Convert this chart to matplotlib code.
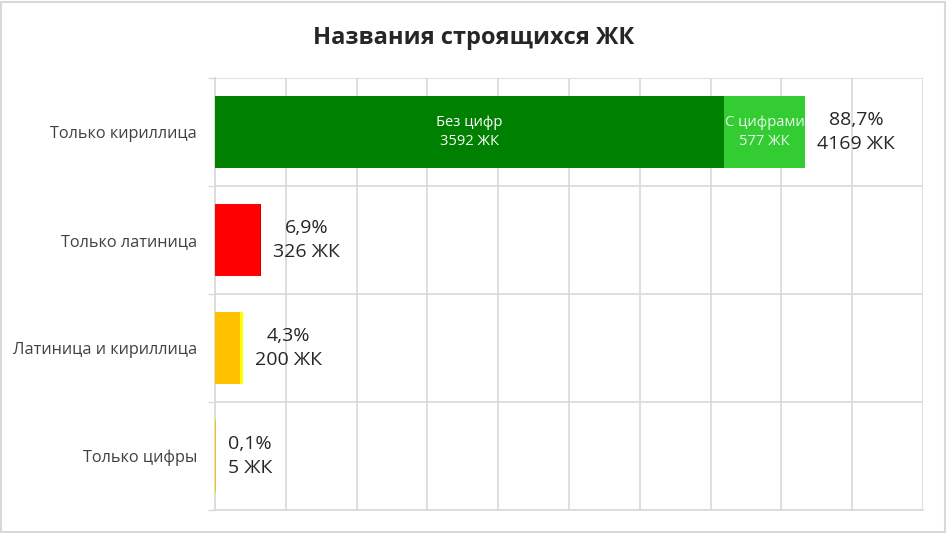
import matplotlib.pyplot as plt
import numpy as np

plt.rcParams['font.family'] = ['Open Sans', 'DejaVu Sans']

categories = ['Только кириллица', 'Только латиница', 'Латиница и кириллица', 'Только цифры']
no_digits = np.array([3592, 320, 178, 5])
with_digits = np.array([577, 6, 22, 0])
colors_a = ['#008000', '#FF0000', '#FFC000', '#FFC000']
colors_b = ['#33CC33', '#D00000', '#FFFF00', '#FFFF00']

total = no_digits + with_digits
pct = total / total.sum() * 100

fig = plt.figure(figsize=(9.47, 5.33), dpi=100)
ax = fig.add_axes([215 / 947, 1 - 510 / 533, (923 - 215) / 947, (510 - 78) / 533])

y = np.arange(len(categories))
h = 0.66
ax.barh(y, no_digits, height=h, color=colors_a, zorder=3)
ax.barh(y, with_digits, left=no_digits, height=h, color=colors_b, zorder=3)

# подписи внутри сегментов кириллицы
ax.text(no_digits[0] / 2, 0, f'Без цифр\n{no_digits[0]} ЖК', ha='center', va='center',
        color='white', fontsize=10.6, linespacing=1.3, zorder=4)
ax.text(no_digits[0] + with_digits[0] / 2, 0, f'С цифрами\n{with_digits[0]} ЖК', ha='center',
        va='center', color='#E8F8E8', fontsize=10.6, linespacing=1.3, zorder=4)

for i in range(len(categories)):
    lab = f'{pct[i]:.1f}'.replace('.', ',') + f'%\n{total[i]} ЖК'
    ax.annotate(lab, (total[i], i), xytext=(12, 0), textcoords='offset pixels',
                ha='left', va='center', multialignment='center', fontsize=14,
                color='#262626', linespacing=1.45, zorder=4)

ax.set_xlim(0, 5000)
ax.set_ylim(3.5, -0.5)
ax.set_xticks(np.arange(0, 5001, 500))
ax.tick_params(axis='x', length=0, labelbottom=False)
ax.set_yticks(y)
ax.set_yticklabels(categories, fontsize=11.7, color='#404040')
ax.tick_params(axis='y', which='major', length=0, pad=13)
ax.set_yticks(np.arange(-0.5, 3.6, 1), minor=True)
ax.tick_params(axis='y', which='minor', length=5, width=1, color='#D9D9D9')
ax.grid(axis='x', color='#D9D9D9', linewidth=1.2, zorder=0)
ax.grid(axis='y', which='minor', color='#D9D9D9', linewidth=1.2, zorder=0)
for s in ['top', 'right']:
    ax.spines[s].set_visible(False)
for s in ['left', 'bottom']:
    ax.spines[s].set_color('#D9D9D9')
    ax.spines[s].set_linewidth(1.2)

fig.text(0.5, 1 - 38 / 533, 'Названия строящихся ЖК', ha='center', va='center',
         fontsize=17, fontweight='bold', color='#262626')

fig.patches.append(plt.Rectangle((0.001, 0.002), 0.997, 0.995, transform=fig.transFigure,
                                 fill=False, edgecolor='#D9D9D9', linewidth=1.5))

fig.savefig('out.png', dpi=100)
